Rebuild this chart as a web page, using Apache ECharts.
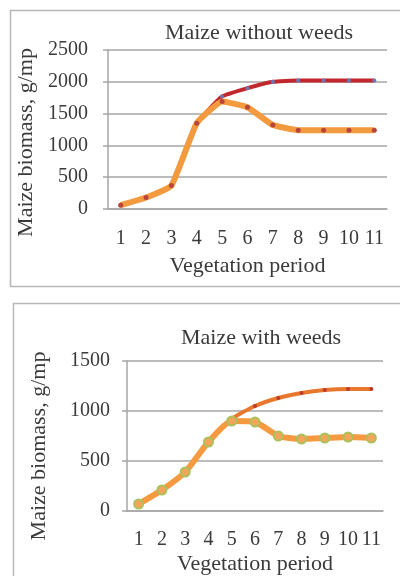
<!DOCTYPE html>
<html>
<head>
<meta charset="utf-8">
<script src="https://cdn.jsdelivr.net/npm/echarts@6/dist/echarts.min.js"></script>
<style>
  html, body { margin: 0; padding: 0; background: #fff; }
  #chart { width: 400px; height: 576px; }
</style>
</head>
<body>
<div id="chart"></div>
<script>
// vegetation periods
const periods = ['1', '2', '3', '4', '5', '6', '7', '8', '9', '10', '11']
// maize without weeds
const noWeedsUpper = [60, 180, 370, 1350, 1770, 1900, 2000, 2020, 2020, 2020, 2020]
const noWeedsLower = [60, 180, 370, 1350, 1690, 1600, 1320, 1240, 1240, 1240, 1240]
// maize with weeds
const weedsUpper = [70, 210, 390, 690, 920, 1050, 1130, 1180, 1210, 1220, 1220]
const weedsLower = [70, 210, 390, 690, 900, 890, 750, 720, 730, 740, 730]

const font = 'Liberation Serif'
const txt = '#3a3a3a'
const gridCol = '#a6a6a6'

function xAxis(idx, margin, gap) {
  return {
    type: 'category', gridIndex: idx, data: periods, boundaryGap: true,
    name: 'Vegetation period', nameLocation: 'middle', nameGap: gap,
    nameTextStyle: { fontFamily: font, fontSize: 22, color: txt },
    axisLine: { lineStyle: { color: gridCol, width: 1.5 } },
    axisTick: { length: 7, lineStyle: { color: gridCol, width: 1.5 } },
    axisLabel: { fontFamily: font, fontSize: 20, color: txt, margin: margin, interval: 0 }
  }
}
function yAxis(idx, max, margin, gap, shift) {
  return {
    type: 'value', gridIndex: idx, min: 0, max: max, interval: 500,
    name: 'Maize biomass, g/mp', nameLocation: 'middle', nameGap: gap, nameRotate: 90,
    nameTextStyle: { fontFamily: font, fontSize: 22, color: txt, padding: [0, shift, 0, 0] },
    axisLine: { show: true, lineStyle: { color: gridCol, width: 1.5 } },
    axisTick: { show: true, length: 5, lineStyle: { color: gridCol, width: 1.5 } },
    axisLabel: { fontFamily: font, fontSize: 20, color: txt, margin: margin, formatter: v => String(v) },
    splitLine: { lineStyle: { color: gridCol, width: 1.5 } }
  }
}
function line(name, data, idx, color, width, marker, z, smooth) {
  return {
    name: name, type: 'line', xAxisIndex: idx, yAxisIndex: idx, data: data,
    smooth: smooth, z: z,
    lineStyle: { color: color, width: width },
    symbol: 'circle', symbolSize: marker.size,
    itemStyle: { color: marker.fill, borderColor: marker.border, borderWidth: marker.bw }
  }
}

const chart = echarts.init(document.getElementById('chart'))
chart.setOption({
  animation: false,
  graphic: [
    { type: 'rect', shape: { x: 10.5, y: 10.5, width: 400, height: 276 }, style: { fill: 'none', stroke: '#b8b8b8', lineWidth: 1.5 } },
    { type: 'rect', shape: { x: 13.5, y: 303.5, width: 400, height: 300 }, style: { fill: 'none', stroke: '#b8b8b8', lineWidth: 1.5 } }
  ],
  title: [
    { text: 'Maize without weeds', left: 254, top: 17, textAlign: 'center',
      textStyle: { fontFamily: font, fontSize: 22, fontWeight: 'normal', color: txt } },
    { text: 'Maize with weeds', left: 256, top: 322, textAlign: 'center',
      textStyle: { fontFamily: font, fontSize: 22, fontWeight: 'normal', color: txt } }
  ],
  grid: [
    { left: 108, right: 13, top: 50, height: 159 },
    { left: 127, right: 17, top: 361, height: 151 }
  ],
  xAxis: [xAxis(0, 20, 46), xAxis(1, 19, 42)],
  yAxis: [yAxis(0, 2500, 20, 69, 26), yAxis(1, 1500, 17, 77, 20)],
  series: [
    line('upper', noWeedsUpper, 0, '#c1272d', 4, { size: 4, fill: '#6a78b8', border: '#6a78b8', bw: 0 }, 2, 0.12),
    line('lower', noWeedsLower, 0, '#f39a3e', 6, { size: 5, fill: '#b9443a', border: '#b9443a', bw: 0 }, 3, 0.12),
    line('upper', weedsUpper, 1, '#e8782e', 4, { size: 4, fill: '#c0392b', border: '#c0392b', bw: 0 }, 2, 0.2),
    line('lower', weedsLower, 1, '#f59a40', 6, { size: 9, fill: '#f3a55a', border: '#a9c25c', bw: 2 }, 3, 0.2)
  ]
})
</script>
</body>
</html>
